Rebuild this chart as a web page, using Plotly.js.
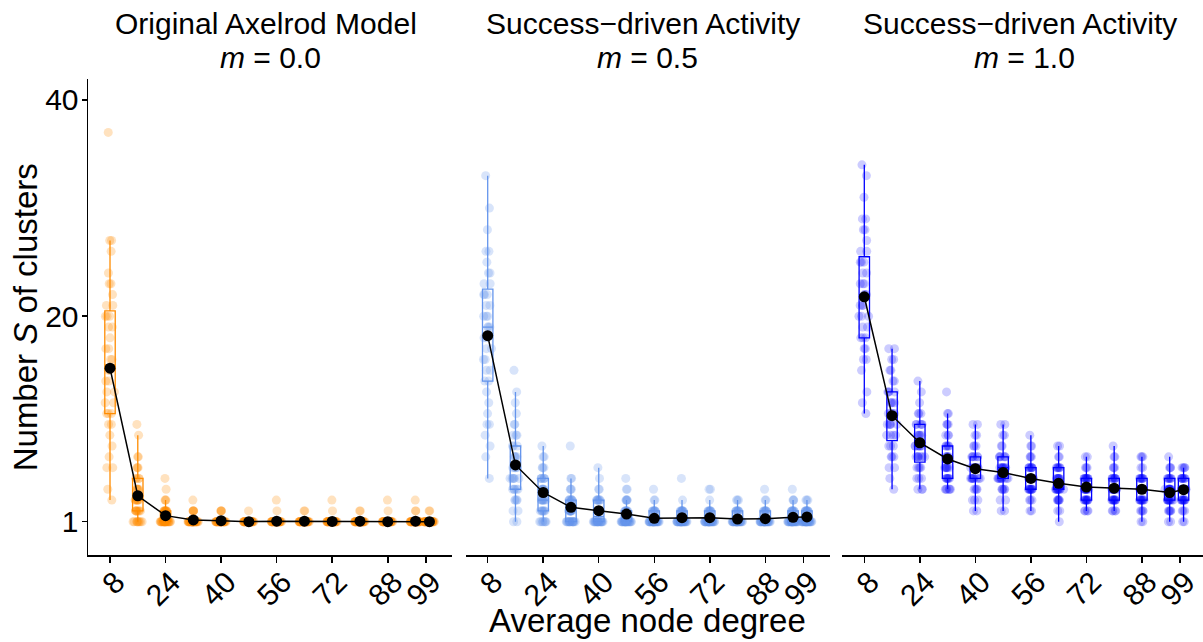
<!DOCTYPE html>
<html>
<head>
<meta charset="utf-8">
<script src="https://cdn.plot.ly/plotly-3.0.1.min.js"></script>
<style>html,body{margin:0;padding:0;background:#fff;}#chart{width:1203px;height:642px;}</style>
</head>
<body>
<div id="chart"></div>
<script>
// ---- categories / ticks ----
const degree = [8, 16, 24, 32, 40, 48, 56, 64, 72, 80, 88, 96, 100];
const tickVals = [8, 24, 40, 56, 72, 88, 99];
const tickText = ['8', '24', '40', '56', '72', '88', '99'];
const yTickVals = [1, 20, 40];
const yTickText = ['1', '20', '40'];

const panelTitles = ['Original Axelrod Model', 'Success\u2212driven Activity', 'Success\u2212driven Activity'];
const panelM = ['0.0', '0.5', '1.0'];

// ---- m = 0.0 : number of clusters per run ----
const m00_d8 = [37,27,27,26,24,23,23,22,21,21,20,20,20,19,19,18,17,17,16,16,15,15,14,14,13,13,12,12,11,11,11,10,10,9,8,7,6,6,4,3];
const m00_d16 = [10,9,7,7,6,6,6,5,5,5,5,4,4,4,4,4,3,3,3,3,3,3,3,2,2,2,2,2,2,2,2,1,1,1,1,1,1,1,1,1];
const m00_d24 = [5,4,3,3,3,2,2,2,2,2,2,2,2,2,2, 1,1,1,1,1,1,1,1,1,1, 1,1,1,1,1,1,1,1,1,1, 1,1,1,1,1];
const m00_d32 = [3,2,2,2,2,2, 1,1,1,1,1,1,1,1,1,1, 1,1,1,1,1,1,1,1,1,1, 1,1,1,1,1,1,1,1,1,1, 1,1,1,1];
const m00_d40 = [2,2,2,2, 1,1,1,1,1,1,1,1,1,1, 1,1,1,1,1,1,1,1,1,1, 1,1,1,1,1,1,1,1,1,1, 1,1,1,1,1,1];
const m00_d48 = [2, 1,1,1,1,1,1,1,1,1,1, 1,1,1,1,1,1,1,1,1,1, 1,1,1,1,1,1,1,1,1,1, 1,1,1,1,1,1,1,1,1];
const m00_d56 = [3,2, 1,1,1,1,1,1,1,1,1,1, 1,1,1,1,1,1,1,1,1,1, 1,1,1,1,1,1,1,1,1,1, 1,1,1,1,1,1,1,1];
const m00_d64 = [2,2, 1,1,1,1,1,1,1,1,1,1, 1,1,1,1,1,1,1,1,1,1, 1,1,1,1,1,1,1,1,1,1, 1,1,1,1,1,1,1,1];
const m00_d72 = [3,2, 1,1,1,1,1,1,1,1,1,1, 1,1,1,1,1,1,1,1,1,1, 1,1,1,1,1,1,1,1,1,1, 1,1,1,1,1,1,1,1];
const m00_d80 = [2,2, 1,1,1,1,1,1,1,1,1,1, 1,1,1,1,1,1,1,1,1,1, 1,1,1,1,1,1,1,1,1,1, 1,1,1,1,1,1,1,1];
const m00_d88 = [3,2, 1,1,1,1,1,1,1,1,1,1, 1,1,1,1,1,1,1,1,1,1, 1,1,1,1,1,1,1,1,1,1, 1,1,1,1,1,1,1,1];
const m00_d96 = [3,2,2, 1,1,1,1,1,1,1,1,1,1, 1,1,1,1,1,1,1,1,1,1, 1,1,1,1,1,1,1,1,1,1, 1,1,1,1,1,1,1];
const m00_d100 = [2,2, 1,1,1,1,1,1,1,1,1,1, 1,1,1,1,1,1,1,1,1,1, 1,1,1,1,1,1,1,1,1,1, 1,1,1,1,1,1,1,1];
const m00_mean = [15.2, 3.4, 1.56, 1.16, 1.09, 1.0, 1.05, 1.05, 1.02, 1.05, 1.0, 1.05, 1.0];

// ---- m = 0.5 ----
const m05_d8 = [33,30,28,26,26,25,24,24,23,23,22,22,22,21,21,20,20,20,19,19,19,18,18,17,17,16,16,15,15,14,14,13,12,11,10,10,9,8,7,5];
const m05_d16 = [15,13,12,11,10,10,9,9,9,8,8,8,7,7,7,7,6,6,6,6,6,5,5,5,5,5,5,4,4,4,4,4,3,3,3,3,2,2,1,1];
const m05_d24 = [8,7,7,6,6,6,5,5,5,5,5,5,4,4,4,4,4,4,3,3,3,3,3,3,3,3,2,2,2,2,2,2,2,1,1,1,1,1,1,1];
const m05_d32 = [8,5,5,4,4,4,3,3,3,3,3,3,3,3,2,2,2,2,2,2,2,2,2,2, 1,1,1,1,1,1,1,1,1,1, 1,1,1,1,1,1];
const m05_d40 = [6,5,4,4,3,3,3,3,3,3,3,3,2,2,2,2,2,2,2,2, 1,1,1,1,1,1,1,1,1,1, 1,1,1,1,1,1,1,1,1,1];
const m05_d48 = [5,4,4,3,3,3,3,3,2,2,2,2,2,2,2,2, 1,1,1,1,1,1,1,1,1,1, 1,1,1,1,1,1,1,1,1,1, 1,1,1,1];
const m05_d56 = [4,3,3,2,2,2,2,2,2,2,2, 1,1,1,1,1,1,1,1,1,1, 1,1,1,1,1,1,1,1,1,1, 1,1,1,1,1,1,1,1,1];
const m05_d64 = [5,3,2,2,2,2,2,2,2,2,2, 1,1,1,1,1,1,1,1,1,1, 1,1,1,1,1,1,1,1,1,1, 1,1,1,1,1,1,1,1,1];
const m05_d72 = [4,4,3,2,2,2,2,2,2,2,2, 1,1,1,1,1,1,1,1,1,1, 1,1,1,1,1,1,1,1,1,1, 1,1,1,1,1,1,1,1,1];
const m05_d80 = [3,3,3,2,2,2,2,2,2,2,2, 1,1,1,1,1,1,1,1,1,1, 1,1,1,1,1,1,1,1,1,1, 1,1,1,1,1,1,1,1,1];
const m05_d88 = [4,3,3,2,2,2,2,2,2,2,2, 1,1,1,1,1,1,1,1,1,1, 1,1,1,1,1,1,1,1,1,1, 1,1,1,1,1,1,1,1,1];
const m05_d96 = [4,3,3,3,2,2,2,2,2,2,2,2, 1,1,1,1,1,1,1,1,1,1, 1,1,1,1,1,1,1,1,1,1, 1,1,1,1,1,1,1,1];
const m05_d100 = [3,3,3,2,2,2,2,2,2,2,2,2,2, 1,1,1,1,1,1,1,1,1,1, 1,1,1,1,1,1,1,1,1,1, 1,1,1,1,1,1,1];
const m05_mean = [18.2, 6.25, 3.7, 2.33, 2.02, 1.71, 1.31, 1.37, 1.37, 1.25, 1.28, 1.4, 1.44];

// ---- m = 1.0 ----
const m10_d8 = [34,33,31,29,29,28,28,27,26,26,25,25,25,24,24,23,23,23,22,22,22,21,21,21,20,20,20,19,19,18,18,18,17,17,16,16,15,13,12,11];
const m10_d16 = [17,17,16,16,15,15,14,14,13,13,13,13,12,12,12,12,11,11,11,11,11,10,10,10,10,10,9,9,9,9,8,8,8,7,7,7,6,6,5,4];
const m10_d24 = [14,13,12,11,11,11,10,10,10,10,10,9,9,9,9,9,8,8,8,8,8,8,8,7,7,7,7,7,7,7,6,6,6,6,5,5,5,4,4,4];
const m10_d32 = [13,11,11,10,10,10,9,9,9,8,8,8,8,8,7,7,7,7,7,7,6,6,6,6,6,6,6,5,5,5,5,5,5,5,4,4,4,4,4,4];
const m10_d40 = [10,10,9,9,8,8,8,7,7,7,7,7,7,6,6,6,6,6,6,6,6,6,5,5,5,5,5,5,5,5,5,4,4,4,4,3,3,3,2,2];
const m10_d48 = [10,10,9,9,8,8,7,7,7,7,7,7,6,6,6,6,6,6,6,6,6,5,5,5,5,5,5,5,5,5,5,4,4,4,4,4,3,3,2,2];
const m10_d56 = [9,8,8,7,7,7,6,6,6,6,6,6,6,6,5,5,5,5,5,5,5,5,5,5,5,4,4,4,4,4,4,4,4,4,4,3,3,3,2,2];
const m10_d64 = [8,8,7,7,6,6,6,6,6,6,6,5,5,5,5,5,5,5,5,4,4,4,4,4,4,4,4,4,4,4,4,3,3,3,3,3,3,2,2,1];
const m10_d72 = [7,7,6,6,6,5,5,5,5,5,5,5,5,5,5,4,4,4,4,4,4,4,4,4,4,4,3,3,3,3,3,3,3,3,3,3,2,2,2,2];
const m10_d80 = [8,7,7,6,6,6,5,5,5,5,5,5,5,5,4,4,4,4,4,4,4,4,4,4,4,4,3,3,3,3,3,3,3,3,3,3,2,2,2,2];
const m10_d88 = [7,7,7,6,6,5,5,5,5,5,5,5,5,4,4,4,4,4,4,4,4,4,4,4,3,3,3,3,3,3,3,3,3,3,2,2,2,2,1,1];
const m10_d96 = [7,6,6,6,5,5,5,5,5,5,5,4,4,4,4,4,4,4,4,4,4,4,3,3,3,3,3,3,3,3,3,3,3,2,2,2,2,2,1,1];
const m10_d100 = [6,6,6,6,5,5,5,5,5,5,5,5,4,4,4,4,4,4,4,4,4,4,4,4,4,3,3,3,3,3,3,3,3,3,3,2,2,2,1,1];
const m10_mean = [21.8, 10.8, 8.3, 6.8, 5.9, 5.55, 5.0, 4.55, 4.2, 4.1, 4.0, 3.7, 3.96];

const m00_runs = [m00_d8, m00_d16, m00_d24, m00_d32, m00_d40, m00_d48, m00_d56, m00_d64, m00_d72, m00_d80, m00_d88, m00_d96, m00_d100];
const m05_runs = [m05_d8, m05_d16, m05_d24, m05_d32, m05_d40, m05_d48, m05_d56, m05_d64, m05_d72, m05_d80, m05_d88, m05_d96, m05_d100];
const m10_runs = [m10_d8, m10_d16, m10_d24, m10_d32, m10_d40, m10_d48, m10_d56, m10_d64, m10_d72, m10_d80, m10_d88, m10_d96, m10_d100];

// ---- styling ----
const lineColors = ['#FF8C00', '#6495ED', '#0000FF'];
const pointColors = ['rgba(255,140,0,0.25)', 'rgba(100,149,237,0.25)', 'rgba(0,0,255,0.2)'];
const FONT = 'Liberation Sans, Arial, Helvetica, sans-serif';
const W = 1203;
const CLEAR = 'rgba(0,0,0,0)';

function flatten(runs) {
  const x = [], y = [];
  runs.forEach((g, k) => g.forEach(v => { x.push(degree[k]); y.push(v); }));
  return {x: x, y: y};
}
// jittered run points, one trace per degree so each column is jittered on its own (box outline hidden)
function pointsTraces(runs, i, xa) {
  return runs.map((g, k) => ({
    type: 'box', x: g.map(() => degree[k]), y: g, xaxis: xa, yaxis: 'y',
    boxpoints: 'all', jitter: 1, pointpos: 0, width: 3.2, whiskerwidth: 0,
    fillcolor: CLEAR, line: {color: CLEAR, width: 0},
    marker: {color: pointColors[i], size: 9, line: {width: 0}},
    hoverinfo: 'skip', showlegend: false
  }));
}
// box-and-whisker (Tukey fences), no visible outlier markers
function boxTrace(runs, i, xa) {
  const f = flatten(runs);
  return {
    type: 'box', x: f.x, y: f.y, xaxis: xa, yaxis: 'y',
    boxpoints: 'outliers', width: 3, whiskerwidth: 0,
    fillcolor: CLEAR, line: {color: lineColors[i], width: 1.3},
    marker: {color: CLEAR, size: 1, line: {width: 0}},
    hoverinfo: 'skip', showlegend: false
  };
}
function meanTrace(means, xa) {
  return {
    type: 'scatter', mode: 'lines+markers', x: degree, y: means, xaxis: xa, yaxis: 'y',
    line: {color: 'black', width: 1.5}, marker: {color: 'black', size: 11},
    hoverinfo: 'skip', showlegend: false
  };
}

const data = [].concat(
  [boxTrace(m00_runs, 0, 'x')], pointsTraces(m00_runs, 0, 'x'), [meanTrace(m00_mean, 'x')],
  [boxTrace(m05_runs, 1, 'x2')], pointsTraces(m05_runs, 1, 'x2'), [meanTrace(m05_mean, 'x2')],
  [boxTrace(m10_runs, 2, 'x3')], pointsTraces(m10_runs, 2, 'x3'), [meanTrace(m10_mean, 'x3')]
);

function xAxis(dom, rng) {
  return {
    domain: dom, anchor: 'y', range: rng, tickmode: 'array', tickvals: tickVals, ticktext: tickText,
    tickangle: -45, showline: true, linecolor: 'black', linewidth: 1.5,
    ticks: 'outside', ticklen: 6, tickwidth: 1.5, tickcolor: 'black',
    showgrid: false, zeroline: false, tickfont: {size: 30, color: 'black', family: FONT},
    automargin: false, ticklabelshift: 6, ticklabelstandoff: -10, ticklabeloverflow: 'allow'
  };
}

const panelCenters = [270, 647.6, 1024];
const titleCenters = [266, 643, 1020];
const annotations = [];
for (let i = 0; i < 3; i++) {
  annotations.push({xref: 'paper', yref: 'paper', x: titleCenters[i] / W, y: 1.1164, xanchor: 'center', yanchor: 'middle',
    text: panelTitles[i], showarrow: false, font: {size: 30, color: 'black', family: FONT}});
  annotations.push({xref: 'paper', yref: 'paper', x: panelCenters[i] / W, y: 1.0450, xanchor: 'center', yanchor: 'middle',
    text: '<i>m</i> = ' + panelM[i], showarrow: false, font: {size: 30, color: 'black', family: FONT}});
}
annotations.push({xref: 'paper', yref: 'paper', x: 647.6 / W, y: -0.1378, xanchor: 'center', yanchor: 'middle',
  text: 'Average node degree', showarrow: false, font: {size: 33, color: 'black', family: FONT}});
annotations.push({xref: 'paper', yref: 'paper', x: 25.3 / W, y: 0.5, xanchor: 'center', yanchor: 'middle', textangle: -90,
  text: 'Number <i>S</i> of clusters', showarrow: false, font: {size: 33, color: 'black', family: FONT}});

const layout = {
  width: 1203, height: 642,
  margin: {l: 0, r: 0, t: 79, b: 87},
  paper_bgcolor: 'white', plot_bgcolor: 'white', showlegend: false,
  font: {family: FONT, size: 30, color: 'black'},
  boxmode: 'overlay',
  xaxis: xAxis([88 / W, 452 / W], [1.66, 106.5]),
  xaxis2: xAxis([465.7 / W, 829.5 / W], [1.66, 106.5]),
  xaxis3: xAxis([842.3 / W, 1], [1.66, 105.6]),
  yaxis: {
    domain: [0, 1], anchor: 'x', range: [-2.08, 41.94], tickmode: 'array', tickvals: yTickVals, ticktext: yTickText,
    showline: true, linecolor: 'black', linewidth: 1.5, ticks: 'outside', ticklen: 5, tickwidth: 1.5, tickcolor: 'black',
    showgrid: false, zeroline: false, tickfont: {size: 30, color: 'black', family: FONT}, automargin: false,
    ticklabelstandoff: -3
  },
  annotations: annotations
};

Plotly.newPlot('chart', data, layout, {displayModeBar: false, staticPlot: true});
</script>
</body>
</html>
